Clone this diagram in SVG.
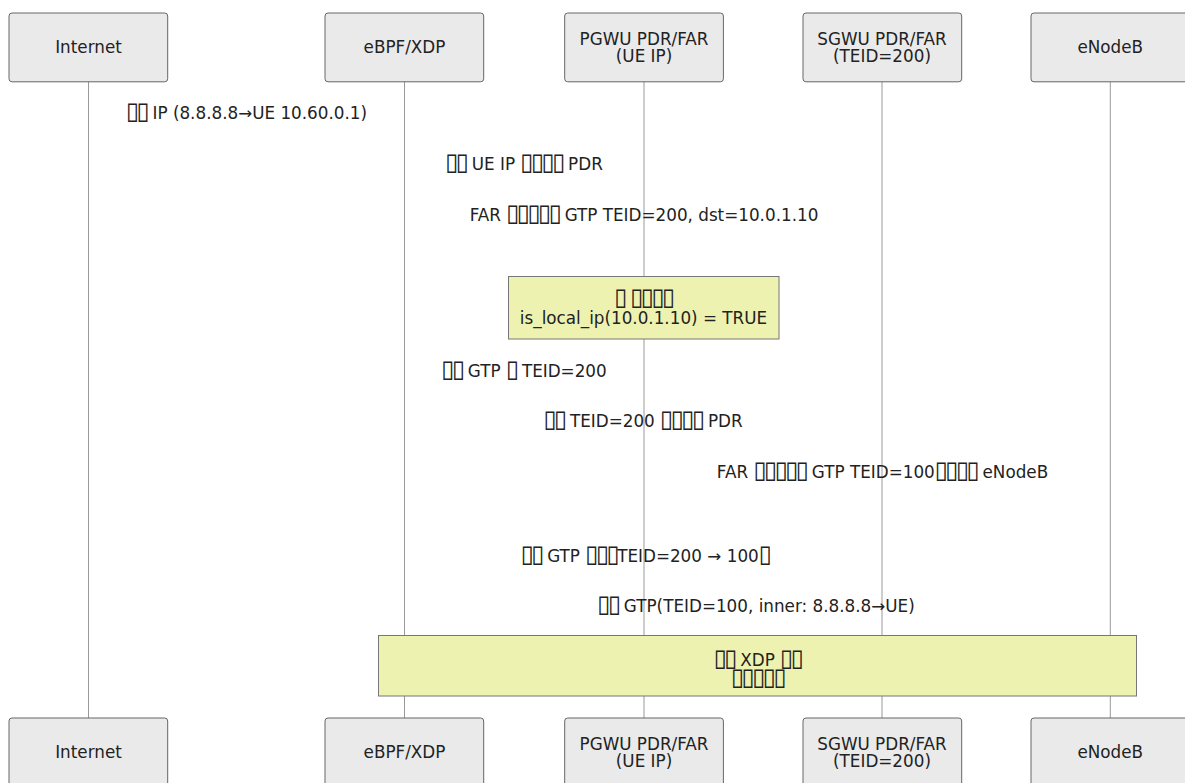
<svg xmlns="http://www.w3.org/2000/svg" width="1185" height="783" viewBox="0 0 1185 783">
<style>
text{font-family:"DejaVu Sans","Liberation Sans",sans-serif;font-size:16.8px;fill:#222;text-anchor:middle}
.actor{fill:#eaeaea;stroke:#666;stroke-width:1}
.life{stroke:#999;stroke-width:1}
.note{fill:#eef2b1;stroke:#777;stroke-width:1}
.t{font-size:24px;letter-spacing:-2.6px}
</style>
<rect width="1185" height="783" fill="#fff"/>
<g id="lifelines">
<line class="life" x1="88.5" y1="81" x2="88.5" y2="718"/>
<line class="life" x1="404.5" y1="81" x2="404.5" y2="718"/>
<line class="life" x1="644" y1="81" x2="644" y2="718"/>
<line class="life" x1="882" y1="81" x2="882" y2="718"/>
<line class="life" x1="1110.3" y1="81" x2="1110.3" y2="718"/>
</g>
<g id="internet-top"><rect class="actor" x="9" y="13" width="158.7" height="68.8" rx="3"/><text x="88.5" y="53">Internet</text></g>
<g id="ebpf-top"><rect class="actor" x="325" y="13" width="158.7" height="68.8" rx="3"/><text x="404.5" y="53">eBPF/XDP</text></g>
<g id="pgwu-top"><rect class="actor" x="564.7" y="13" width="158.7" height="68.8" rx="3"/><text x="644" y="44.5">PGWU PDR/FAR<tspan x="644" dy="17">(UE IP)</tspan></text></g>
<g id="sgwu-top"><rect class="actor" x="803" y="13" width="158.7" height="68.8" rx="3"/><text x="882" y="44.5">SGWU PDR/FAR<tspan x="882" dy="17">(TEID=200)</tspan></text></g>
<g id="enodeb-top"><rect class="actor" x="1031" y="13" width="158.7" height="68.8" rx="3"/><text x="1110.3" y="53">eNodeB</text></g>
<g id="connectors">
<text x="246.5" y="119"><tspan class="t">▯▯</tspan> IP (8.8.8.8→UE 10.60.0.1)</text>
<text x="524" y="170"><tspan class="t">▯▯</tspan> UE IP <tspan class="t">▯▯▯▯</tspan> PDR</text>
<text x="644" y="221">FAR <tspan class="t">▯▯▯▯▯</tspan> GTP TEID=200, dst=10.0.1.10</text>
<text x="524" y="377"><tspan class="t">▯▯</tspan> GTP <tspan class="t">▯</tspan> TEID=200</text>
<text x="643" y="427"><tspan class="t">▯▯</tspan> TEID=200 <tspan class="t">▯▯▯▯</tspan> PDR</text>
<text x="882.5" y="478">FAR <tspan class="t">▯▯▯▯▯</tspan> GTP TEID=100<tspan class="t">▯▯▯▯</tspan> eNodeB</text>
<text x="645" y="562"><tspan class="t">▯▯</tspan> GTP <tspan class="t">▯▯▯</tspan>TEID=200 → 100<tspan class="t">▯</tspan></text>
<text x="756" y="612"><tspan class="t">▯▯</tspan> GTP(TEID=100, inner: 8.8.8.8→UE)</text>
</g>
<g id="note-local"><rect class="note" x="508.5" y="276.5" width="270.5" height="62.5"/><text x="643.5" y="305"><tspan class="t">▯</tspan> <tspan class="t">▯▯▯▯</tspan><tspan x="643.5" dy="19">is_local_ip(10.0.1.10) = TRUE</tspan></text></g>
<g id="note-xdp"><rect class="note" x="378.5" y="635.5" width="758" height="60.5"/><text x="757.5" y="666"><tspan class="t">▯▯</tspan> XDP <tspan class="t">▯▯</tspan><tspan x="757.5" dy="19" class="t">▯▯▯▯▯</tspan></text></g>
<g id="internet-bottom"><rect class="actor" x="9" y="718" width="158.7" height="68.8" rx="3"/><text x="88.5" y="758">Internet</text></g>
<g id="ebpf-bottom"><rect class="actor" x="325" y="718" width="158.7" height="68.8" rx="3"/><text x="404.5" y="758">eBPF/XDP</text></g>
<g id="pgwu-bottom"><rect class="actor" x="564.7" y="718" width="158.7" height="68.8" rx="3"/><text x="644" y="749.5">PGWU PDR/FAR<tspan x="644" dy="17">(UE IP)</tspan></text></g>
<g id="sgwu-bottom"><rect class="actor" x="803" y="718" width="158.7" height="68.8" rx="3"/><text x="882" y="749.5">SGWU PDR/FAR<tspan x="882" dy="17">(TEID=200)</tspan></text></g>
<g id="enodeb-bottom"><rect class="actor" x="1031" y="718" width="158.7" height="68.8" rx="3"/><text x="1110.3" y="758">eNodeB</text></g>
</svg>
